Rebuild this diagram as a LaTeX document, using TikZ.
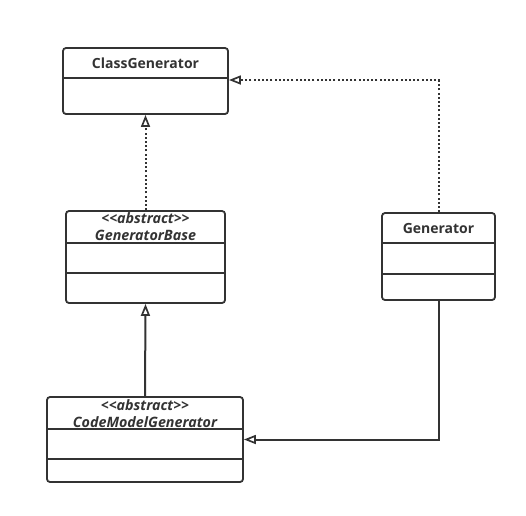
\documentclass[tikz,border=0pt]{standalone}
\usepackage{fontspec}
\setmainfont{Open Sans}
\usetikzlibrary{arrows.meta}
\definecolor{umlline}{HTML}{333333}
\definecolor{umltext}{HTML}{333333}
\tikzset{
  umlbox/.style={draw=umlline, line width=1.8pt, rounded corners=3pt, fill=white, inner sep=0pt},
  sepline/.style={draw=umlline, line width=1.8pt},
  title/.style={text=umltext, font=\fontsize{14}{16}\selectfont\bfseries, align=center, inner sep=0pt},
  abstitle/.style={text=umltext, font=\fontsize{14.3}{16.5}\selectfont\bfseries\itshape, align=center, inner sep=0pt},
  realize/.style={draw=umlline, line width=2pt, dash pattern=on 2pt off 2.2pt, -{Triangle[open, length=12pt, width=9pt, line width=1.7pt]}},
  inherit/.style={draw=umlline, line width=2pt, -{Triangle[open, length=12pt, width=9pt, line width=1.7pt]}},
}
\begin{document}
\begin{tikzpicture}[x=1pt, y=-1pt]
\useasboundingbox (0,0) rectangle (526,515);
% ClassGenerator
\node[umlbox, minimum width=165, minimum height=66] (cg) at (145.5,81) {};
\draw[sepline] (cg.west |- 0,78) -- (cg.east |- 0,78);
\node[title] (cgt) at (145.5,63.5) {ClassGenerator};
% GeneratorBase
\node[umlbox, minimum width=159, minimum height=92] (gb) at (145.5,257) {};
\draw[sepline] (gb.west |- 0,243) -- (gb.east |- 0,243);
\draw[sepline] (gb.west |- 0,273) -- (gb.east |- 0,273);
\node[abstitle] (gbt) at (145.5,226.5) {{<}{<}abstract{>}{>}\\GeneratorBase};
% CodeModelGenerator
\node[umlbox, minimum width=196, minimum height=85] (cmg) at (145,439.5) {};
\draw[sepline] (cmg.west |- 0,429) -- (cmg.east |- 0,429);
\draw[sepline] (cmg.west |- 0,459) -- (cmg.east |- 0,459);
\node[abstitle] (cmgt) at (145,413.5) {{<}{<}abstract{>}{>}\\CodeModelGenerator};
% Generator
\node[umlbox, minimum width=113, minimum height=87] (gen) at (438.5,256.5) {};
\draw[sepline] (gen.west |- 0,243) -- (gen.east |- 0,243);
\draw[sepline] (gen.west |- 0,274) -- (gen.east |- 0,274);
\node[title] (gent) at (438.5,228.5) {Generator};
% connectors
\draw[realize] (gen.north) |- ([yshift=1pt]cg.east);
\draw[realize] (gb.north) -- (cg.south);
\draw[inherit] (cmg.north) -- (gb.south);
\draw[inherit] (gen.south) |- (cmg.east);
\end{tikzpicture}
\end{document}
